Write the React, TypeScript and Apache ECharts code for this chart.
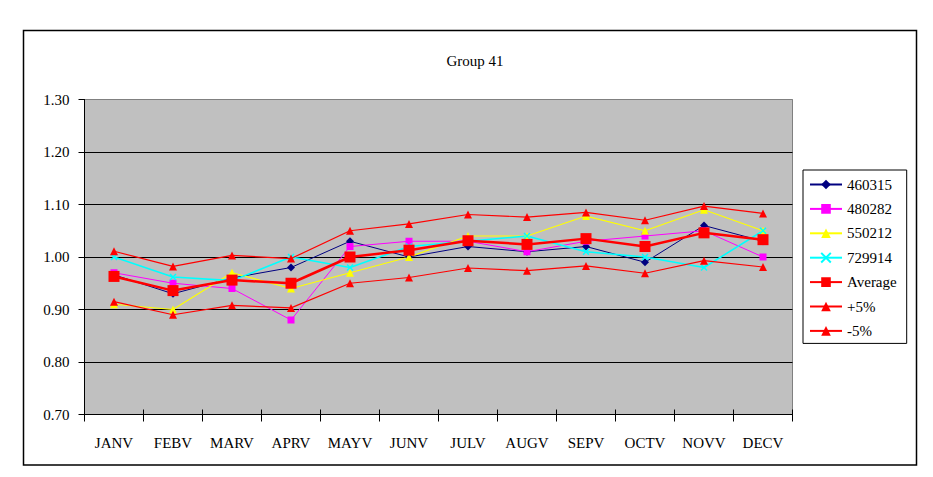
import React, { useEffect, useRef } from "react";
import * as echarts from "echarts";

const months = ["JANV", "FEBV", "MARV", "APRV", "MAYV", "JUNV", "JULV", "AUGV", "SEPV", "OCTV", "NOVV", "DECV"];
const s460315 = [0.966, 0.930, 0.960, 0.980, 1.030, 1.000, 1.020, 1.010, 1.020, 0.990, 1.060, 1.030];
const s480282 = [0.970, 0.950, 0.940, 0.880, 1.020, 1.030, 1.030, 1.010, 1.030, 1.040, 1.050, 1.000];
const s550212 = [0.910, 0.900, 0.970, 0.940, 0.970, 1.000, 1.040, 1.040, 1.078, 1.050, 1.090, 1.050];
const s729914 = [1.000, 0.962, 0.955, 1.000, 0.980, 1.020, 1.030, 1.040, 1.010, 1.000, 0.980, 1.050];
const average = [0.963, 0.936, 0.956, 0.950, 1.000, 1.013, 1.031, 1.024, 1.035, 1.020, 1.046, 1.033];
const plus5 = [1.011, 0.982, 1.003, 0.997, 1.050, 1.063, 1.081, 1.076, 1.085, 1.070, 1.097, 1.083];
const minus5 = [0.915, 0.890, 0.908, 0.903, 0.950, 0.961, 0.979, 0.974, 0.983, 0.969, 0.993, 0.981];

const FONT = "Liberation Serif";
const FS = 15;
const X_SYMBOL = "path://M0,0L10,10M10,0L0,10";

export default function App() {
  const ref = useRef<HTMLDivElement>(null);
  useEffect(() => {
    if (!ref.current) return;
    const chart = echarts.init(ref.current, null, { renderer: "svg" });
    const lineSeries = (name: string, data: number[], color: string, symbol: string, symbolSize: number, width: number, extra: any = {}) => ({
      name,
      type: "line",
      data,
      symbol,
      symbolSize,
      showSymbol: true,
      lineStyle: { color, width },
      itemStyle: { color, borderColor: color, borderWidth: extra.borderWidth ?? 0 },
      emphasis: { disabled: true },
      z: extra.z ?? 2,
    });
    chart.setOption({
      animation: false,
      title: {
        text: "Group 41",
        left: 470,
        textAlign: "center",
        top: 48,
        textStyle: { fontFamily: FONT, fontSize: FS, fontWeight: "normal", color: "#000" },
      },
      graphic: [
        {
          type: "rect",
          shape: { x: 23.5, y: 30.5, width: 893, height: 434.5 },
          style: { stroke: "#000", lineWidth: 1.5, fill: "none" },
          silent: true,
        },
      ],
      legend: {
        orient: "vertical",
        left: 803,
        top: 170,
        padding: [7, 10, 5, 6],
        itemWidth: 32,
        itemHeight: 12,
        itemGap: 9.4,
        backgroundColor: "#fff",
        borderColor: "#000",
        borderWidth: 1,
        borderRadius: 0,
        selectedMode: false,
        textStyle: { fontFamily: FONT, fontSize: FS, color: "#000" },
        data: ["460315", "480282", "550212", "729914", "Average", "+5%", "-5%"],
      },
      grid: {
        left: 84.5,
        top: 99.5,
        width: 708,
        height: 315,
        show: true,
        backgroundColor: "#C0C0C0",
        borderColor: "#808080",
        borderWidth: 1,
      },
      xAxis: [
        {
          type: "category",
          data: months,
          boundaryGap: true,
          axisLine: { lineStyle: { color: "#000", width: 1 } },
          axisTick: { show: true, length: 7, interval: 0, lineStyle: { color: "#000" } },
          axisLabel: { fontFamily: FONT, fontSize: FS, color: "#000", margin: 21, interval: 0 },
          splitLine: { show: false },
        },
        {
          type: "category",
          data: months,
          position: "bottom",
          boundaryGap: true,
          axisLine: { show: false },
          axisTick: { show: true, inside: true, length: 5, interval: 0, lineStyle: { color: "#000" } },
          axisLabel: { show: false },
          splitLine: { show: false },
        },
      ],
      yAxis: {
        type: "value",
        min: 0.7,
        max: 1.3,
        interval: 0.1,
        axisLine: { show: true, lineStyle: { color: "#000", width: 1 } },
        axisTick: { show: true, length: 6, lineStyle: { color: "#000" } },
        axisLabel: {
          fontFamily: FONT,
          fontSize: FS,
          color: "#000",
          margin: 15,
          formatter: (v: number) => v.toFixed(2),
        },
        splitLine: {
          show: true,
          lineStyle: { color: ["#000", "#000", "#000", "#000", "#000", "#000", "#808080"], width: 1 },
        },
      },
      series: [
        lineSeries("460315", s460315, "#000080", "diamond", 8, 1),
        lineSeries("480282", s480282, "#FF00FF", "rect", 7, 1),
        lineSeries("550212", s550212, "#FFFF00", "triangle", 8, 1.2),
        lineSeries("729914", s729914, "#00FFFF", X_SYMBOL, 6, 1.6, { borderWidth: 1.5 }),
        lineSeries("Average", average, "#FF0000", "rect", 11, 2.5, { z: 3 }),
        lineSeries("+5%", plus5, "#FF0000", "triangle", 8, 1.2, { z: 3 }),
        lineSeries("-5%", minus5, "#FF0000", "triangle", 8, 1.2, { z: 3 }),
      ],
    });
    return () => chart.dispose();
  }, []);
  return (
    <div
      ref={ref}
      style={{ position: "absolute", left: 0, top: 0, width: 933, height: 477, background: "#fff" }}
    />
  );
}
